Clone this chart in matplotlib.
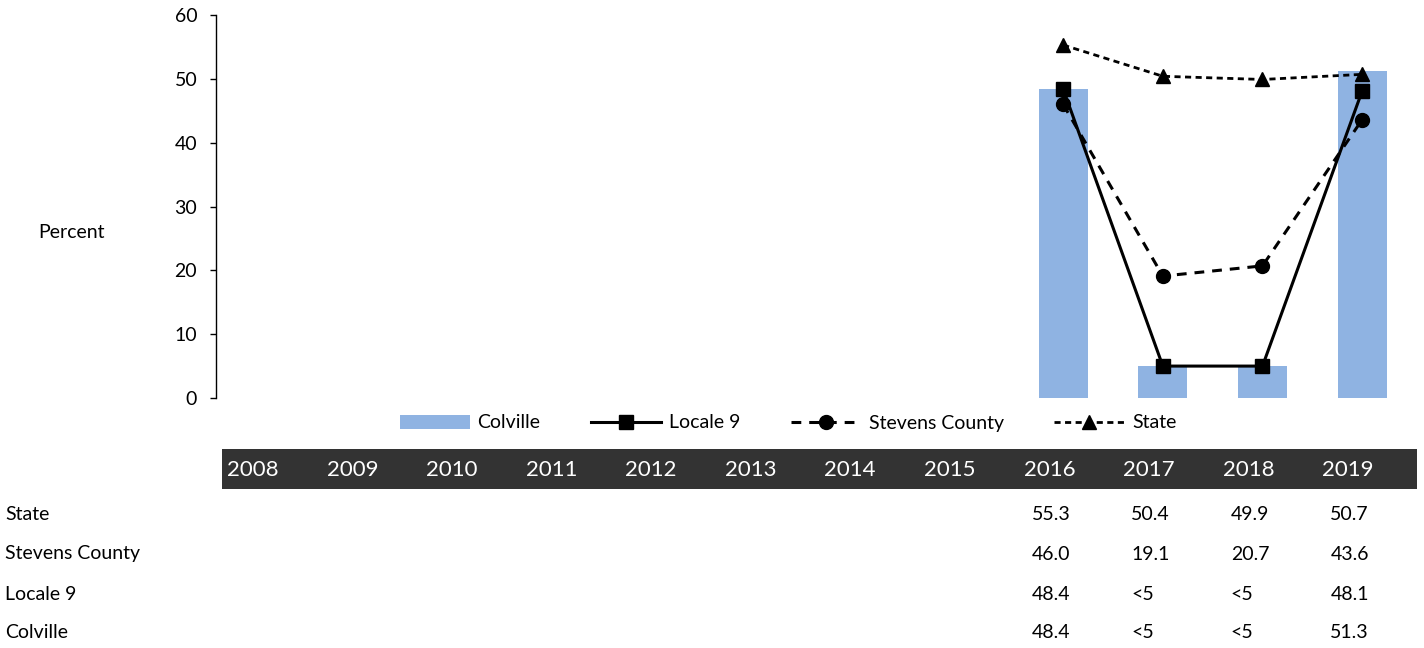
import numpy as np
import matplotlib.pyplot as plt
from matplotlib.patches import Rectangle

plt.rcParams['font.family'] = ['Lato', 'DejaVu Sans']

# data
years = [str(y) for y in range(2008, 2020)]
nan = np.nan
colville = [nan] * 8 + [48.4, 5, 5, 51.3]
locale9 = [nan] * 8 + [48.4, 5, 5, 48.1]
stevens = [nan] * 8 + [46.0, 19.1, 20.7, 43.6]
state = [nan] * 8 + [55.3, 50.4, 49.9, 50.7]

row_names = ['State', 'Stevens County', 'Locale 9', 'Colville']
row_values = [
    [''] * 8 + ['55.3', '50.4', '49.9', '50.7'],
    [''] * 8 + ['46.0', '19.1', '20.7', '43.6'],
    [''] * 8 + ['48.4', '<5', '<5', '48.1'],
    [''] * 8 + ['48.4', '<5', '<5', '51.3'],
]

W, H = 1424, 648
fs = 14
fig = plt.figure(figsize=(W / 100, H / 100), dpi=100)

# main chart
ax = fig.add_axes([216 / W, 1 - 398 / H, (1412 - 216) / W, (398 - 15) / H])
x = np.arange(len(years))
ax.bar(x, colville, width=0.49, color='#8FB3E2', label='Colville', zorder=1)
ax.plot(x, locale9, color='black', lw=2.2, marker='s', ms=10, label='Locale 9', zorder=3)
ax.plot(x, stevens, color='black', lw=2.2, ls=(0, (3.2, 2.6)), marker='o', ms=10,
        label='Stevens County', zorder=3)
ax.plot(x, state, color='black', lw=2.0, ls=(0, (2.2, 1.6)), marker='^', ms=10,
        label='State', zorder=3)

ax.set_xlim(-0.5, len(years) - 0.5)
ax.set_ylim(0, 60)
ax.set_yticks(range(0, 61, 10))
ax.set_xticks([])
for s in ['top', 'right', 'bottom']:
    ax.spines[s].set_visible(False)
ax.spines['left'].set_linewidth(1.0)
ax.tick_params(axis='y', length=4.5, width=1, pad=9, labelsize=fs)

fig.text(38 / W, 1 - 232 / H, 'Percent', fontsize=fs, ha='left', va='center')

handles, labels = ax.get_legend_handles_labels()
order = [labels.index(n) for n in ['Colville', 'Locale 9', 'Stevens County', 'State']]
fig.legend([handles[i] for i in order], [labels[i] for i in order],
           loc='center', bbox_to_anchor=(788 / W, 1 - 423 / H), ncol=4, frameon=False,
           fontsize=fs, handlelength=3.6, handletextpad=0.4, columnspacing=2.6)

# data table below
tab = fig.add_axes([222 / W, 0, (1417 - 222) / W, 1])
tab.set_xlim(0, len(years))
tab.set_ylim(H, 0)
tab.axis('off')
tab.add_patch(Rectangle((0, 449), len(years), 40, color='#333333', lw=0))
for i, yr in enumerate(years):
    tab.text(i + 0.05, 470, yr, color='white', fontsize=16, ha='left', va='center')

row_y = [515, 554, 594, 633]
for name, vals, yy in zip(row_names, row_values, row_y):
    fig.text(5 / W, 1 - yy / H, name, fontsize=fs, ha='left', va='center')
    for i, v in enumerate(vals):
        tab.text(i + 0.13, yy, v, fontsize=fs, ha='left', va='center')

fig.savefig('out.png', dpi=100)
